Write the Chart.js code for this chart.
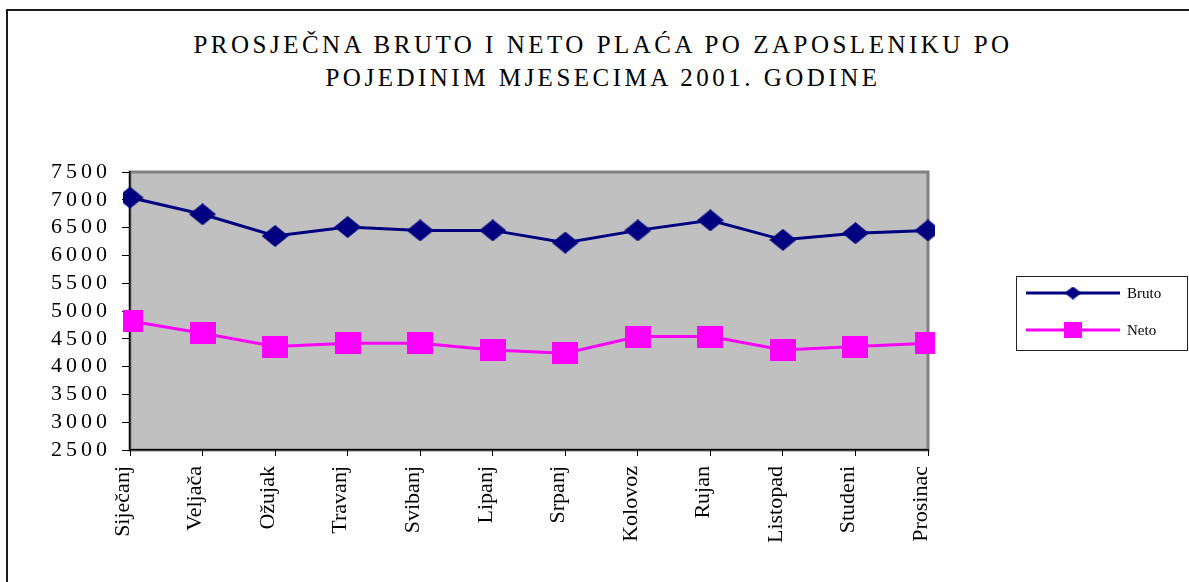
<!DOCTYPE html>
<html>
<head>
<meta charset="utf-8">
<script src="https://cdn.jsdelivr.net/npm/chart.js@4/dist/chart.umd.min.js"></script>
<style>
  html, body { margin: 0; padding: 0; background: #fff; overflow: hidden; }
  #wrap { position: relative; width: 1189px; height: 582px; overflow: hidden; }
  #frame { position: absolute; left: 6px; top: 9px; width: 2000px; height: 2000px;
           border-left: 2px solid #1a1a1a; border-top: 2px solid #1a1a1a; }
  #title { position: absolute; left: 0; top: 28px; width: 1206px; text-align: center;
           font-family: 'Liberation Serif', 'Times New Roman', serif; font-size: 25px;
           line-height: 33px; letter-spacing: 3.5px; color: #000; }
  canvas { position: absolute; left: 0; top: 0; }
</style>
</head>
<body>
<div id="wrap">
  <div id="frame"></div>
  <div id="title">PROSJEČNA BRUTO I NETO PLAĆA PO ZAPOSLENIKU PO<br>POJEDINIM MJESECIMA 2001. GODINE</div>
  <canvas id="chart" width="1189" height="582"></canvas>
</div>
<script>
// podaci očitani s grafikona
const months = ['Siječanj', 'Veljača', 'Ožujak', 'Travanj', 'Svibanj', 'Lipanj',
                'Srpanj', 'Kolovoz', 'Rujan', 'Listopad', 'Studeni', 'Prosinac'];
const bruto = [7040, 6740, 6350, 6510, 6450, 6450, 6230, 6450, 6630, 6280, 6400, 6450];
const neto  = [4820, 4600, 4360, 4420, 4420, 4300, 4240, 4540, 4540, 4300, 4360, 4420];
const seriesNames = ['Bruto', 'Neto'];
const yMin = 2500, yMax = 7500, yStep = 500;

const FONT = "'Liberation Serif', 'Times New Roman', serif";
Chart.defaults.font.family = FONT;
Chart.defaults.color = '#000';

// marker kao mala slika (romb i kvadrat kao u Excelu)
function makeMarker(shape, w, h, color) {
    let c = document.createElement('canvas');
    c.width = w; c.height = h;
    let g = c.getContext('2d');
    g.fillStyle = color;
    if (shape === 'diamond') {
        g.beginPath();
        g.moveTo(w / 2, 0); g.lineTo(w, h / 2); g.lineTo(w / 2, h); g.lineTo(0, h / 2);
        g.closePath(); g.fill();
    } else {
        g.fillRect(0, 0, w, h);
    }
    return c;
}

const navy = '#000080', magenta = '#FF00FF';
const diamond = makeMarker('diamond', 27, 22, navy);
const square = makeMarker('square', 26, 22, magenta);
const legendMarkers = [makeMarker('diamond', 17, 13, navy), makeMarker('square', 18, 16, magenta)];

// siva pozadina područja crtanja
const plotBg = {
    id: 'plotBg',
    beforeDraw(chart) {
        let { ctx, chartArea: a } = chart;
        ctx.save();
        ctx.fillStyle = '#C0C0C0';
        ctx.fillRect(a.left, a.top, a.right - a.left, a.bottom - a.top);
        ctx.strokeStyle = '#808080';
        ctx.lineWidth = 3;
        ctx.strokeRect(a.left, a.top, a.right - a.left, a.bottom - a.top);
        ctx.restore();
    }
};

// razmaci između znamenki na osi Y
const spacedYTicks = {
    id: 'spacedYTicks',
    beforeDraw(chart) {
        let s = chart.scales.y;
        if (s._spaced) return;
        let orig = s.drawLabels;
        s.drawLabels = function (area) {
            this.ctx.save();
            this.ctx.letterSpacing = '4px';
            orig.call(this, area);
            this.ctx.restore();
        };
        s._spaced = true;
    }
};

// legenda u okviru desno
const legendBox = {
    id: 'legendBox',
    afterDraw(chart) {
        let ctx = chart.ctx;
        let x = 1016, y = 276, w = 172, h = 74;
        ctx.save();
        ctx.strokeStyle = '#222';
        ctx.lineWidth = 1;
        ctx.strokeRect(x + 0.5, y + 0.5, w - 1, h);
        chart.data.datasets.forEach((ds, i) => {
            let ly = y + 17 + i * 37;
            ctx.strokeStyle = ds.borderColor;
            ctx.lineWidth = 3;
            ctx.beginPath();
            ctx.moveTo(x + 10, ly);
            ctx.lineTo(x + 104, ly);
            ctx.stroke();
            let m = legendMarkers[i];
            ctx.drawImage(m, x + 57 - m.width / 2, ly - m.height / 2);
            ctx.fillStyle = '#000';
            ctx.font = '15px ' + FONT;
            ctx.textBaseline = 'middle';
            ctx.fillText(ds.label, x + 111, ly + 1);
        });
        ctx.restore();
    }
};

new Chart(document.getElementById('chart'), {
    type: 'line',
    data: {
        labels: months,
        datasets: [
            {
                label: seriesNames[0],
                data: bruto,
                borderColor: navy,
                backgroundColor: navy,
                borderWidth: 3,
                pointStyle: diamond,
                tension: 0
            },
            {
                label: seriesNames[1],
                data: neto,
                borderColor: magenta,
                backgroundColor: magenta,
                borderWidth: 3,
                pointStyle: square,
                tension: 0
            }
        ]
    },
    options: {
        responsive: false,
        animation: false,
        layout: { padding: { left: 0, top: 172, right: 261, bottom: 0 } },
        plugins: {
            legend: { display: false },
            title: { display: false },
            tooltip: { enabled: false }
        },
        scales: {
            x: {
                offset: false,
                afterFit: scale => { scale.height = 132; },
                border: { color: '#000', width: 1.5 },
                grid: { drawOnChartArea: false, drawTicks: true, tickLength: 6, color: '#000' },
                ticks: {
                    autoSkip: false,
                    minRotation: 90,
                    maxRotation: 90,
                    padding: 10,
                    labelOffset: -7,
                    font: { size: 22 },
                    color: '#000'
                }
            },
            y: {
                min: yMin,
                max: yMax,
                afterFit: scale => { scale.width = 130; },
                border: { color: '#000', width: 1.5 },
                grid: { drawOnChartArea: false, drawTicks: true, tickLength: 8, color: '#000' },
                ticks: {
                    stepSize: yStep,
                    autoSkip: false,
                    padding: 11,
                    font: { size: 22 },
                    color: '#000',
                    callback: value => String(value)
                }
            }
        }
    },
    plugins: [plotBg, spacedYTicks, legendBox]
});
</script>
</body>
</html>
